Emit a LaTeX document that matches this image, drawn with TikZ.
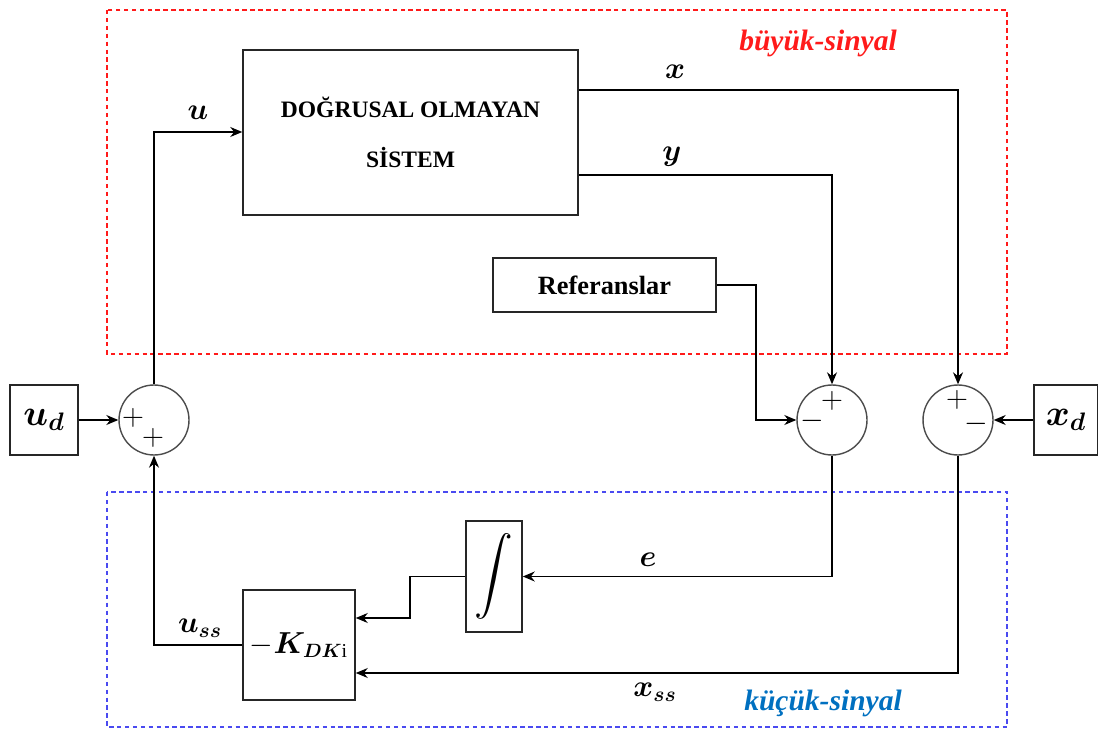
\documentclass[tikz,border=0pt]{standalone}
\usepackage{amsmath,amssymb,bm}
\usepackage{fontspec}
\setmainfont{Liberation Serif}
\usepackage{tikz}
\usetikzlibrary{positioning,arrows.meta,calc}
\definecolor{bigred}{HTML}{FF1A1A}
\definecolor{smallblue}{HTML}{0070C0}
\definecolor{boxblue}{HTML}{4A4AF0}

\begin{document}
\begin{tikzpicture}[x=0.02cm,y=-0.02cm,>={Stealth[length=2.4mm,width=2mm]},line width=0.7pt,
  blk/.style={draw=black!85,line width=0.9pt,inner sep=0pt,align=center,font=\fontsize{13.4}{16}\selectfont\bfseries},
  sumj/.style={draw=black!70,circle,line width=0.8pt,minimum size=1.4cm,inner sep=0pt},
  sgn/.style={inner sep=0pt,font=\fontsize{16}{16}\selectfont},
  lbl/.style={inner sep=0pt,font=\fontsize{18}{20}\selectfont},
  zone/.style={dashed,line width=0.6pt,dash pattern=on 2.5pt off 2pt}]
\useasboundingbox (0,0) rectangle (1098,729);
% dashed regions
\draw[zone,draw=bigred] (107,10) rectangle (1007,354);
\draw[zone,draw=boxblue] (107,492) rectangle (1007,727);
\node[bigred,font=\fontsize{16.8}{18}\selectfont\bfseries\itshape] (bigtag) at (818,43) {büyük-sinyal};
\node[smallblue,font=\fontsize{16.8}{18}\selectfont\bfseries\itshape] (smalltag) at (823,703) {küçük-sinyal};
% blocks
\node[blk,minimum width=6.7cm,minimum height=3.3cm] (sys) at (410.5,132.5) {DOĞRUSAL OLMAYAN\\[12pt]SİSTEM};
\node[blk,minimum width=4.46cm,minimum height=1.08cm,font=\fontsize{15}{17}\selectfont\bfseries] (ref) at (604.5,285) {Referanslar};
\node[blk,minimum width=1.36cm,minimum height=1.4cm,font=\fontsize{20}{22}\selectfont] (ud) at (44,420) {$\bm{u_d}$};
\node[blk,minimum width=1.28cm,minimum height=1.4cm,font=\fontsize{20}{22}\selectfont] (xd) at (1066,420) {$\bm{x_d}$};
\node[blk,minimum width=1.12cm,minimum height=2.22cm,font=\fontsize{22}{24}\selectfont] (intg) at (494,576.5) {$\displaystyle\int$};
\node[blk,minimum width=2.24cm,minimum height=2.2cm,font=\fontsize{16}{18}\selectfont] (kdk) at (299,645) {$-\bm{K}_{\bm{DK}\mathrm{i}}$};
% summing junctions
\node[sumj] (s1) at (154,420) {};
\node[sumj] (s2) at (832,420) {};
\node[sumj] (s3) at (958,420) {};
\node[sgn] at (133,418) {$+$};
\node[sgn] at (153,438) {$+$};
\node[sgn] at (832,401) {$+$};
\node[sgn] at (812,421) {$-$};
\node[sgn] at (957,400) {$+$};
\node[sgn] at (976,424) {$-$};
% connectors
\draw[->] (ud) -- (s1);
\draw[->] (xd) -- (s3);
\draw[->] (s1.north) |- (sys.west |- 0,132);
\draw[->] (sys.east |- 0,90) -| (s3.north);
\draw[->] (sys.east |- 0,175) -| (s2.north);
\draw[->] (ref.east) -- (756,285) |- (s2.west);
\draw[->] (s2.south) |- (intg.east);
\draw[->] (intg.west) -- (410,576.5) |- (kdk.east |- 0,618);
\draw[->] (s3.south) |- (kdk.east |- 0,673);
\draw[->] (kdk.west) -| (s1.south);
% signal names
\node[lbl] (ulbl) at (198,113) {$\bm{u}$};
\node[lbl] (xlbl) at (675,72) {$\bm{x}$};
\node[lbl] (ylbl) at (672,157) {$\bm{y}$};
\node[lbl] (elbl) at (648,560) {$\bm{e}$};
\node[lbl] (usslbl) at (200,628) {$\bm{u_{ss}}$};
\node[lbl] (xsslbl) at (655,692) {$\bm{x_{ss}}$};
\end{tikzpicture}
\end{document}
